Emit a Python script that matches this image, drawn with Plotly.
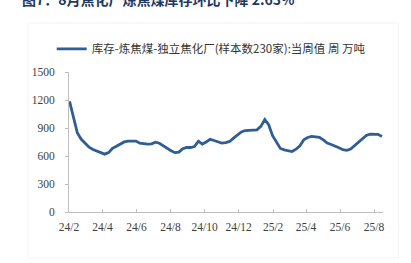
import pandas as pd
import plotly.graph_objects as go

title_text = "图7：8月焦化厂炼焦煤库存环比下降 2.63%"
series_name = "库存-炼焦煤-独立焦化厂(样本数230家):当周值 周 万吨"

dates = pd.date_range("2024-02-02", periods=81, freq="7D")
values = [
    1185, 1020, 846, 779, 737, 695, 670, 656, 640, 620,
    636, 682, 704, 724, 751, 759, 760, 760, 737, 731,
    727, 731, 748, 737, 707, 679, 656, 636, 641, 678,
    693, 691, 701, 759, 728, 750, 778, 766, 750, 739,
    743, 756, 792, 826, 858, 873, 878, 878, 880, 917,
    990, 935, 817, 741, 681, 665, 657, 648, 673, 709,
    773, 798, 810, 809, 801, 772, 739, 724, 708, 688,
    667, 660, 674, 711, 747, 782, 820, 835, 834, 832,
    810,
]

tick_vals = pd.date_range("2024-02-01", "2025-08-01", freq="2MS")
tick_text = ["24/2", "24/4", "24/6", "24/8", "24/10", "24/12",
             "25/2", "25/4", "25/6", "25/8"]
y_ticks = [0, 300, 600, 900, 1200, 1500]

fig = go.Figure()
fig.add_trace(go.Scatter(
    x=dates, y=values, mode="lines", name=series_name,
    line=dict(color="#2F5D95", width=2.8),
    showlegend=True,
))

axis_font = dict(family="Liberation Serif", size=11.5, color="#404040")

fig.update_layout(
    width=411, height=263,
    margin=dict(l=69, r=27.5, t=72, b=51),
    paper_bgcolor="white", plot_bgcolor="white",
    showlegend=True,
    legend=dict(
        orientation="h", x=-0.055, xanchor="left", y=1.165, yanchor="middle",
        font=dict(family="Noto Sans CJK SC", size=11.5, color="#333333"),
        bgcolor="rgba(0,0,0,0)", borderwidth=0,
    ),
    xaxis=dict(
        type="date",
        range=["2024-02-01", "2025-08-17"],
        tickvals=tick_vals, ticktext=tick_text,
        showgrid=False, zeroline=False,
        showline=True, linecolor="#BFBFBF", linewidth=1,
        ticks="inside", ticklen=3, tickcolor="#BFBFBF",
        tickfont=axis_font, ticklabelstandoff=4,
    ),
    yaxis=dict(
        range=[0, 1500], tickvals=y_ticks,
        showgrid=False, zeroline=False,
        showline=True, linecolor="#BFBFBF", linewidth=1,
        ticks="outside", ticklen=3, tickcolor="#BFBFBF",
        tickfont=axis_font, ticklabelstandoff=8,
    ),
    annotations=[dict(
        text="<b>" + title_text + "</b>",
        xref="paper", yref="paper", x=-0.155, y=1.525,
        xanchor="left", yanchor="middle", showarrow=False,
        font=dict(family="Noto Sans CJK SC", size=14, color="#1F3864"),
    )],
    shapes=[dict(
        type="rect", xref="paper", yref="paper",
        x0=(28 - 69) / 314.5, x1=(399 - 69) / 314.5,
        y0=(212 - 258) / 140, y1=1 + (72 - 23) / 140,
        line=dict(color="#F4F4F4", width=1), layer="below",
    )],
)

fig.write_html("out.html")
